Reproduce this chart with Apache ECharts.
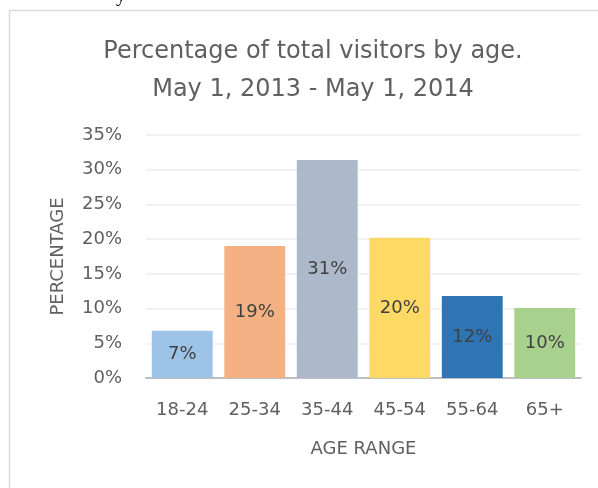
<!DOCTYPE html>
<html>
<head>
<meta charset="utf-8">
<script src="https://cdn.jsdelivr.net/npm/echarts@6/dist/echarts.min.js"></script>
<style>
    html, body { margin: 0; padding: 0; background: #fff; }
    #main { width: 598px; height: 488px; }
</style>
</head>
<body>
<div id="main"></div>
<script>
// data
var ageRanges = ['18-24', '25-34', '35-44', '45-54', '55-64', '65+'];
var visitorPct = [6.8, 19.0, 31.4, 20.2, 11.8, 10.1];
var barColors = ['#9DC3E6', '#F4B183', '#ADB9CA', '#FFD966', '#2E75B6', '#A9D18E'];
var yTicks = [0, 5, 10, 15, 20, 25, 30, 35];

var textColor = '#606060';
var fontName = '"DejaVu Sans", "Open Sans", sans-serif';

var barData = [];
for (var i = 0; i < visitorPct.length; i++) {
    barData.push({
        value: visitorPct[i],
        itemStyle: { color: barColors[i] }
    });
}

var myChart = echarts.init(document.getElementById('main'));
var option = {
    animation: false,
    textStyle: { fontFamily: fontName },
    title: {
        text: 'Percentage of total visitors by age.\nMay 1, 2013 - May 1, 2014',
        left: 308,
        textAlign: 'center',
        top: 28,
        textStyle: {
            color: textColor,
            fontSize: 24,
            fontWeight: 'normal',
            lineHeight: 38,
            fontFamily: fontName
        }
    },
    graphic: [{
        type: 'rect',
        shape: { x: 9.5, y: 10.5, width: 620, height: 520 },
        style: { fill: 'none', stroke: '#d9d9d9', lineWidth: 1.5 },
        z: -1
    }, {
        type: 'text',
        left: 116,
        top: -14,
        style: { text: 'y', fontSize: 20, fill: '#000', fontFamily: 'Liberation Serif' }
    }],
    grid: {
        left: 146,
        right: 17,
        top: 135,
        bottom: 110
    },
    xAxis: {
        type: 'category',
        data: ageRanges,
        name: 'AGE RANGE',
        nameLocation: 'middle',
        nameGap: 62,
        nameTextStyle: { color: textColor, fontSize: 18 },
        axisLine: { lineStyle: { color: '#bfbfbf', width: 2 } },
        axisTick: { show: false },
        axisLabel: { color: textColor, fontSize: 18, margin: 23 }
    },
    yAxis: {
        type: 'value',
        min: yTicks[0],
        max: yTicks[yTicks.length - 1],
        interval: 5,
        name: 'PERCENTAGE',
        nameLocation: 'middle',
        nameGap: 79,
        nameTextStyle: { color: textColor, fontSize: 18 },
        axisLine: { show: false },
        axisTick: { show: false },
        axisLabel: {
            color: textColor,
            fontSize: 18,
            margin: 24,
            formatter: '{value}%'
        },
        splitLine: { lineStyle: { color: '#eeeeee', width: 1.5 } }
    },
    series: [{
        name: 'visitors',
        type: 'bar',
        data: barData,
        barCategoryGap: '16%',
        label: {
            show: true,
            position: 'inside',
            color: '#404040',
            fontSize: 18,
            formatter: function (p) {
                return Math.round(p.value) + '%';
            }
        }
    }]
};
myChart.setOption(option);
</script>
</body>
</html>
